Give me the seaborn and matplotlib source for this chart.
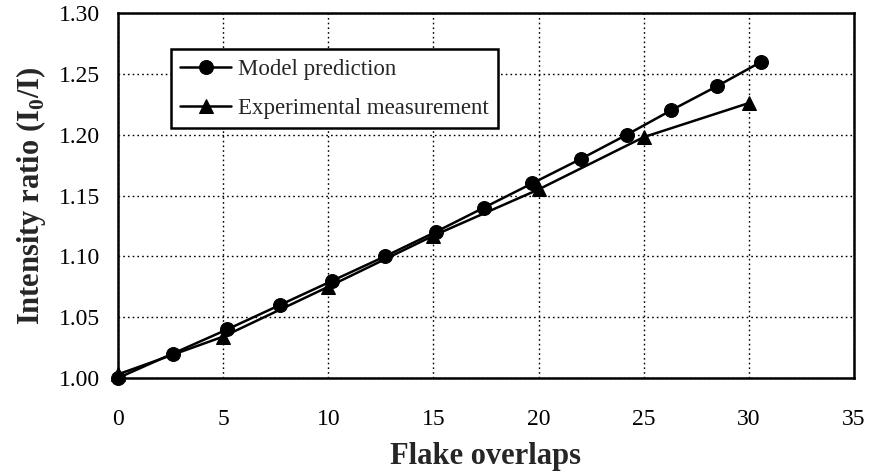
import matplotlib
matplotlib.use("Agg")
import matplotlib.pyplot as plt
import seaborn as sns
import pandas as pd

# Model prediction: overlaps needed to reach each intensity ratio
model_overlaps = [0, 2.6, 5.2, 7.7, 10.2, 12.7, 15.1, 17.4, 19.7, 22.0, 24.2, 26.3, 28.5, 30.6]
model_ratio = [1.00, 1.02, 1.04, 1.06, 1.08, 1.10, 1.12, 1.14, 1.16, 1.18, 1.20, 1.22, 1.24, 1.26]

# Experimental measurement
exp_overlaps = [0, 5, 10, 15, 20, 25, 30]
exp_ratio = [1.003, 1.034, 1.075, 1.117, 1.155, 1.198, 1.226]

x_ticks = [0, 5, 10, 15, 20, 25, 30, 35]
y_ticks = [1.00, 1.05, 1.10, 1.15, 1.20, 1.25, 1.30]

sns.set_style("white")
plt.rcParams["font.family"] = ["Liberation Serif", "DejaVu Serif"]
plt.rcParams["mathtext.fontset"] = "custom"
plt.rcParams["mathtext.rm"] = "Liberation Serif"
plt.rcParams["mathtext.bf"] = "Liberation Serif:bold"

model_df = pd.DataFrame({"overlaps": model_overlaps, "ratio": model_ratio})
exp_df = pd.DataFrame({"overlaps": exp_overlaps, "ratio": exp_ratio})

fig = plt.figure(figsize=(8.7, 4.74), dpi=100)
ax = fig.add_axes([0.1356, 0.2025, 0.846, 0.770])

line_kw = dict(color="black", linewidth=1.8, markersize=10, clip_on=False,
               markeredgecolor="black", markerfacecolor="black")
sns.lineplot(data=model_df, x="overlaps", y="ratio", marker="o",
             label="Model prediction", ax=ax, **line_kw)
sns.lineplot(data=exp_df, x="overlaps", y="ratio", marker="^",
             label="Experimental measurement", ax=ax, **line_kw)

ax.set_xlim(0, 35)
ax.set_ylim(1.00, 1.30)
ax.set_xticks(x_ticks)
ax.set_yticks(y_ticks)
ax.set_xticklabels([str(t) for t in x_ticks])
ax.set_yticklabels([f"{t:.2f}" for t in y_ticks])

ax.grid(True, color="black", linestyle=(0, (1.2, 2.2)), linewidth=1.0)
ax.set_axisbelow(True)
for spine in ax.spines.values():
    spine.set_visible(True)
    spine.set_color("black")
    spine.set_linewidth(1.8)

ax.tick_params(axis="both", direction="in", length=6, width=1.8,
               labelsize=17, colors="black")
ax.tick_params(axis="x", pad=22)
ax.tick_params(axis="y", pad=13)

ax.set_xlabel("Flake overlaps", fontsize=22, fontweight="bold", labelpad=9)
ax.set_ylabel(r"Intensity ratio (I$_\mathbf{0}$/I)", fontsize=22,
              fontweight="bold", labelpad=8)

leg = ax.legend(loc="upper left", bbox_to_anchor=(0.0716, 0.9005),
                frameon=True, fancybox=False, fontsize=16.5,
                handlelength=2.25, borderpad=0.4, labelspacing=0.8,
                handletextpad=0.3, borderaxespad=0)
leg.get_frame().set_edgecolor("black")
leg.get_frame().set_linewidth(1.8)
leg.get_frame().set_alpha(1)

fig.savefig("out.png", dpi=100)
